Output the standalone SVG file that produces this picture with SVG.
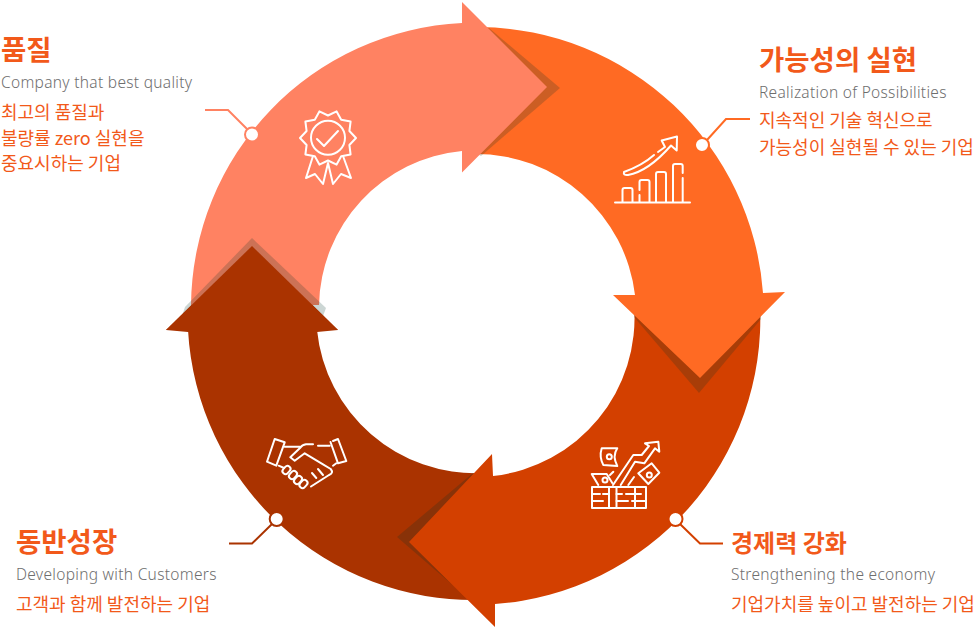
<svg xmlns="http://www.w3.org/2000/svg" width="977" height="628" viewBox="0 0 977 628">
<style>
.t{font-family:"Noto Sans CJK KR","Noto Sans",sans-serif;font-size:27.500px;font-weight:700;fill:#F2591A}
.t2{font-size:24px}
.s{font-family:"Noto Sans","Open Sans",sans-serif;font-size:15.500px;font-weight:300;letter-spacing:.3px;fill:#6E6E6E}
.b{font-family:"Noto Sans CJK KR","Noto Sans",sans-serif;font-size:18px;font-weight:400;fill:#F2591A}
.sh{fill:#003228;opacity:.2}
.i{fill:none;stroke:#fff;stroke-width:2;stroke-linejoin:round;stroke-linecap:round}
.d{fill:#fff;stroke-width:2}
.l{fill:none;stroke-width:2}
</style>
<g id="ring">
<path id="arrow-customers" fill="#AA3300" d="M480 600A286 286 0 0 1 188 330L166 330L252 246L338 330L317 330A159 159 0 0 0 482 473Z"/>
<polygon class="sh" points="473,473 397,537 470,600 490,600 490,473"/>
<path id="arrow-economy" fill="#D34000" d="M760 305A286 286 0 0 1 495 604L495 627L409 542L492 454L493 476A159 159 0 0 0 634 305Z"/>
<polygon class="sh" points="634,317 699,393 761,319 761,300 634,300"/>
<path id="arrow-possibility" fill="#FF6A23" d="M480 27A287 287 0 0 1 763 293L785 292L700 378L613 295L635 295A160 160 0 0 0 475 154Z"/>
<polygon class="sh" points="489,28 560,88 481,156 470,150 470,30"/>
<path id="arrow-quality" fill="#FF8262" d="M191 305A285 285 0 0 1 462 23L462 2L547 87L462 172.500L462 151A158 158 0 0 0 319 305Z"/>
<polygon class="sh" points="252,238 326,308 323,316 180,322 185,307"/>
<polygon id="arrow-customers-head" fill="#AA3300" points="166,330 252,246 338,330 317,332 188,332"/>
</g>
<g id="connectors">
<path class="l" stroke="#FF8262" d="M205 110H228L248 130"/>
<path class="l" stroke="#FF6A23" d="M750 119H726L707 140"/>
<path class="l" stroke="#D34000" d="M723 543.500H700L680 524"/>
<path class="l" stroke="#AA3300" d="M229 543.500H252L272 524"/>
</g>
<g id="node-quality">
<circle class="d" stroke="#FF8262" cx="252" cy="134.500" r="7"/>
<g class="i">
<polygon points="356,138 349.400,131 350.600,121.500 341.200,119.800 336.600,111.400 328,115.500 319.400,111.400 314.800,119.800 305.400,121.500 306.600,131 300,138 306.600,145 305.400,154.500 314.800,156.200 319.400,164.600 328,160.500 336.600,164.600 341.200,156.200 350.600,154.500 349.400,145"/>
<circle cx="328" cy="137.700" r="17"/>
<path d="M317 139L324 146L338 131"/>
<path d="M313 156L306 178L315 174L323 184L328 163L333 184L341 174L351 178L343 156"/>
</g>
<text class="t" x="1" y="60">품질</text>
<text class="s" x="1" y="88">Company that best quality</text>
<text class="b" x="1" y="119">최고의 품질과</text>
<text class="b" x="1" y="145">불량률 zero 실현을</text>
<text class="b" x="1" y="170">중요시하는 기업</text>
</g>
<g id="node-possibility">
<circle class="d" stroke="#FF6A23" cx="702" cy="145" r="7"/>
<g class="i">
<path d="M615 202.500H690"/>
<path d="M622.500 202V190Q622.500 188 624.500 188H630.500Q632.500 188 632.500 190V202"/>
<path d="M639.500 190V182Q639.500 180 641.500 180H647.500Q649.500 180 649.500 182V202M639.500 195V202"/>
<path d="M656 202V174Q656 172 658 172H664Q666 172 666 174V202"/>
<path d="M673 202V166Q673 164 675 164H680.700Q682.700 164 682.700 166V173M682.700 178V202"/>
<path d="M658 152L665 147L661.700 140.500L677 136.500L676.700 150.500L671 145.500C660 158 645 172 628 175Q623 175.500 624 172C635 168 645 163 654 155"/>
</g>
<text class="t" x="759" y="70">가능성의 실현</text>
<text class="s" x="759" y="98">Realization of Possibilities</text>
<text class="b" x="759" y="127">지속적인 기술 혁신으로</text>
<text class="b" x="759" y="154">가능성이 실현될 수 있는 기업</text>
</g>
<g id="node-economy">
<circle class="d" stroke="#D34000" cx="675.500" cy="519" r="7"/>
<g class="i">
<rect x="592" y="487" width="54" height="21"/>
<path d="M609 487V508M616.500 487V508M635 487V508"/>
<path d="M592 494H600M603 494H609M616.500 494H622M626 494H635M635 494H641M592 501H603M616.500 501H628M632 501H635M635 501H646"/>
<path d="M613 485L633.300 455H641.700L649 446L645 443.300L658.300 441.700L659.300 451.700L655 448.300L644.300 463.300L635 461.700L620.700 485"/>
<path d="M628.300 485L634 477"/>
<path d="M601.700 448.300H617.300Q612 456 617.300 466L603.300 465Q599 457 601.700 448.300Z"/>
<circle cx="609.300" cy="456.700" r="2.500"/>
<path d="M638.300 473.300L651.700 463.300L659.300 472.700L648.300 484Z"/>
<circle cx="649.300" cy="475" r="2.500"/>
<path d="M598.300 485L591.700 474H606.700L612.300 483"/>
<circle cx="605" cy="480" r="2.500"/>
<path d="M610 475L613.300 471.700"/>
</g>
<text class="t t2" x="731" y="552">경제력 강화</text>
<text class="s" x="731" y="580">Strengthening the economy</text>
<text class="b" x="731" y="611">기업가치를 높이고 발전하는 기업</text>
</g>
<g id="node-customers">
<circle class="d" stroke="#AA3300" cx="276.700" cy="519" r="7"/>
<g class="i">
<path d="M274.700 439L284.700 442.300L276.300 465.700L267 461.700Z"/>
<path d="M333 441L338 439L346.300 461L338 463.300L330.500 442"/>
<path d="M284.700 446.700H299.700M313 444.300H306Q302 445 300.500 447.500L290.300 457.300L294.700 460.700L304.700 453.300L323 464.300L330.700 469Q334 473 329 475L311 486.500"/>
<path d="M318 445.700H329.700M333 465.700L336.300 463.300"/>
<path d="M278.700 465.700L284 468"/>
<path d="M316.300 478L312 473M323 475L318 469"/>
<rect x="282" y="467" width="9" height="6" rx="3" transform="rotate(-48 286.500 470)"/>
<rect x="288.500" y="472" width="9" height="6" rx="3" transform="rotate(-48 293 475)"/>
<rect x="293.500" y="477" width="9" height="6" rx="3" transform="rotate(-48 298 480)"/>
<rect x="299" y="481" width="9" height="6" rx="3" transform="rotate(-48 303.500 484)"/>
</g>
<text class="t" x="16" y="552">동반성장</text>
<text class="s" x="16" y="580">Developing with Customers</text>
<text class="b" x="16" y="611">고객과 함께 발전하는 기업</text>
</g>
</svg>
